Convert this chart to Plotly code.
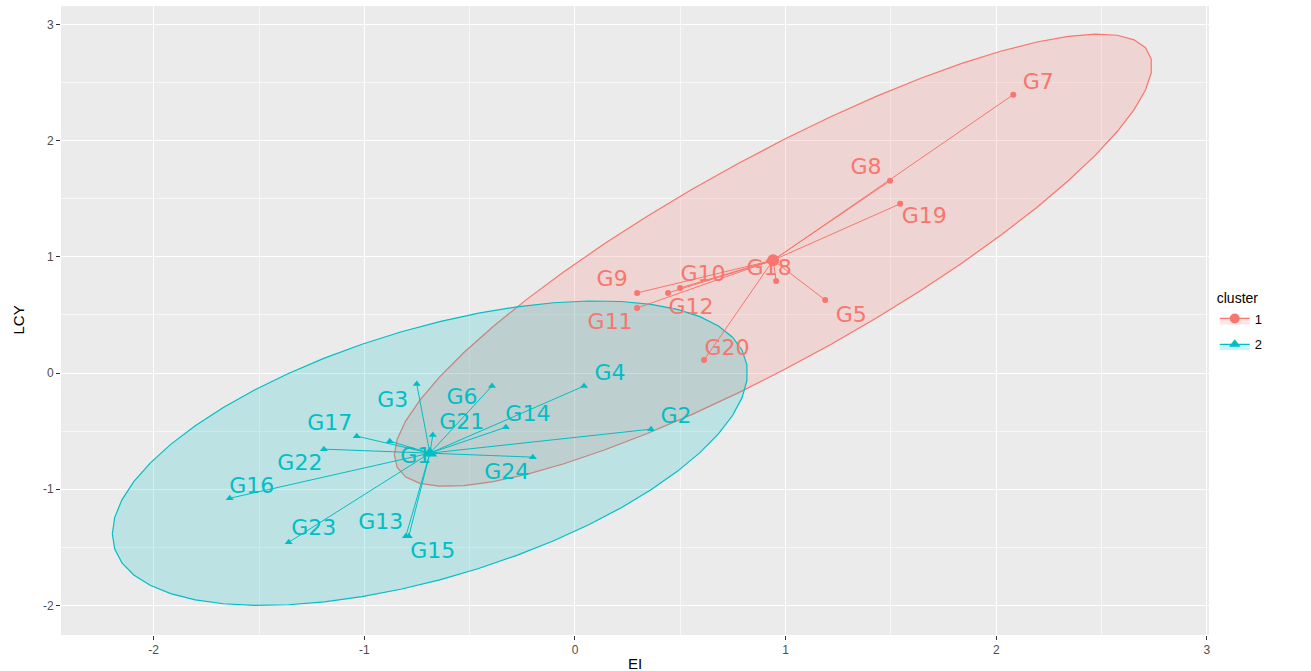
import numpy as np
import plotly.graph_objects as go

# ---------------- data ----------------
c1_names = ["G7", "G8", "G19", "G18", "G5", "G9", "G10", "G12", "G11", "G20"]
c1_ei = [2.081, 1.496, 1.544, 0.955, 1.188, 0.295, 0.499, 0.442, 0.295, 0.613]
c1_lcy = [2.397, 1.655, 1.457, 0.793, 0.629, 0.690, 0.733, 0.690, 0.560, 0.112]

c2_names = ["G3", "G6", "G4", "G14", "G2", "G21", "G17", "G1", "G22", "G16",
            "G23", "G13", "G15", "G24"]
c2_ei = [-0.751, -0.394, 0.043, -0.328, 0.361, -0.675, -1.036, -0.879, -1.192,
         -1.639, -1.359, -0.803, -0.789, -0.200]
c2_lcy = [-0.095, -0.112, -0.112, -0.466, -0.483, -0.534, -0.543, -0.586, -0.655,
          -1.078, -1.457, -1.405, -1.405, -0.724]

x_ticks = [-2, -1, 0, 1, 2, 3]
y_ticks = [-2, -1, 0, 1, 2, 3]

# ---------------- styling / layout ----------------
RED = "#F8766D"
TEAL = "#00BFC4"
W, H = 1311, 671
M = dict(l=61, r=102, t=6, b=36)
XR = [-2.44, 3.01]
YR = [-2.255, 3.16]
PX_X = (W - M["l"] - M["r"]) / (XR[1] - XR[0])
PX_Y = (H - M["t"] - M["b"]) / (YR[1] - YR[0])

# label offsets in pixels (dx right, dy down)
label_off = {
    "G7": (25, -11), "G8": (-24, -12), "G19": (24, 14), "G18": (-7, -11),
    "G5": (26, 16), "G9": (-25, -12), "G10": (23, -12), "G12": (23, 16),
    "G11": (-27, 15), "G20": (23, -11),
    "G3": (-24, 17), "G6": (-30, 12), "G4": (26, -12), "G14": (22, -12),
    "G2": (25, -12), "G21": (29, -12), "G17": (-27, -12), "G1": (26, 16),
    "G22": (-24, 15), "G16": (22, -11), "G23": (25, -13), "G13": (-25, -13),
    "G15": (24, 16), "G24": (-26, 16),
}


def norm_ellipse(x, y, level=0.95, segments=51):
    x = np.asarray(x, float)
    y = np.asarray(y, float)
    n = len(x)
    dfd = n - 1
    # F(2, dfd) quantile in closed form
    f = dfd / 2.0 * ((1 - level) ** (-2.0 / dfd) - 1)
    radius = np.sqrt(2 * f)
    cov = np.cov(np.vstack([x, y]))
    U = np.linalg.cholesky(cov).T
    t = np.linspace(-np.pi, np.pi, segments + 1)
    circle = np.column_stack([np.cos(t), np.sin(t)])
    pts = circle @ U * radius
    return pts[:, 0] + x.mean(), pts[:, 1] + y.mean()


def rgba(hexc, a):
    h = hexc.lstrip("#")
    return "rgba(%d,%d,%d,%.2f)" % (int(h[0:2], 16), int(h[2:4], 16), int(h[4:6], 16), a)


fig = go.Figure()

clusters = [
    ("1", c1_names, c1_ei, c1_lcy, RED, "circle", 6, 12),
    ("2", c2_names, c2_ei, c2_lcy, TEAL, "triangle-up", 7, 13),
]

# ellipses (also legend entries)
for name, nm, xs, ys, col, sym, ms, cs in clusters:
    ex, ey = norm_ellipse(xs, ys)
    fig.add_trace(go.Scatter(
        x=ex, y=ey, mode="lines+markers", fill="toself",
        fillcolor=rgba(col, 0.2), line=dict(color=col, width=1.2),
        marker=dict(symbol=sym, size=10, color=col),
        selectedpoints=[], unselected=dict(marker=dict(opacity=0)),
        name=name, legendgroup=name, showlegend=True, hoverinfo="skip",
    ))

for name, nm, xs, ys, col, sym, ms, cs in clusters:
    cx, cy = float(np.mean(xs)), float(np.mean(ys))
    lx, ly = [], []
    for xi, yi in zip(xs, ys):
        lx += [cx, xi, None]
        ly += [cy, yi, None]
    fig.add_trace(go.Scatter(x=lx, y=ly, mode="lines",
                             line=dict(color=col, width=1),
                             showlegend=False, hoverinfo="skip"))
    fig.add_trace(go.Scatter(x=xs, y=ys, mode="markers",
                             marker=dict(symbol=sym, size=ms, color=col),
                             showlegend=False, hoverinfo="skip"))
    tx = [xi + label_off[n][0] / PX_X for xi, n in zip(xs, nm)]
    ty = [yi - label_off[n][1] / PX_Y for yi, n in zip(ys, nm)]
    fig.add_trace(go.Scatter(x=tx, y=ty, mode="text", text=nm,
                             textposition="middle center",
                             textfont=dict(family="DejaVu Sans", size=22, color=col),
                             showlegend=False, hoverinfo="skip"))
    fig.add_trace(go.Scatter(x=[cx], y=[cy], mode="markers",
                             marker=dict(symbol=sym, size=cs, color=col),
                             showlegend=False, hoverinfo="skip"))

axis_common = dict(
    showgrid=True, gridcolor="white", gridwidth=1.3, zeroline=False,
    ticks="outside", ticklen=4, tickcolor="#333333", tickwidth=1,
    tickfont=dict(family="Liberation Sans, Arial", size=12, color="#4D4D4D"),
    showline=False, automargin=False,
    minor=dict(showgrid=True, gridcolor="rgba(255,255,255,0.6)", gridwidth=0.7, dtick=0.5),
)

title_font = dict(family="Liberation Sans, Arial", size=15, color="black")

fig.update_layout(
    width=W, height=H, margin=M,
    paper_bgcolor="white", plot_bgcolor="#EBEBEB",
    xaxis=dict(range=XR, tickvals=x_ticks, ticktext=[str(v) for v in x_ticks], **axis_common),
    yaxis=dict(range=YR, tickvals=y_ticks, ticktext=[str(v) for v in y_ticks], **axis_common),
    legend=dict(x=1.005, y=0.556, xanchor="left", yanchor="top",
                title=dict(text="cluster", font=dict(family="Liberation Sans, Arial", size=14, color="black")),
                font=dict(family="Liberation Sans, Arial", size=13, color="black"),
                itemwidth=30, bgcolor="white", tracegroupgap=6),
    showlegend=True,
    annotations=[
        dict(text="EI", xref="paper", yref="paper", x=0.5, y=0, xanchor="center",
             yanchor="top", yshift=-18, showarrow=False, font=title_font),
        dict(text="LCY", xref="paper", yref="paper", x=0, y=0.5, xanchor="center",
             yanchor="middle", xshift=-43, textangle=-90, showarrow=False, font=title_font),
    ],
)

fig.write_html("out.html", config={"displayModeBar": False},
               post_script="document.body.style.margin='0';document.body.style.padding='0';")
